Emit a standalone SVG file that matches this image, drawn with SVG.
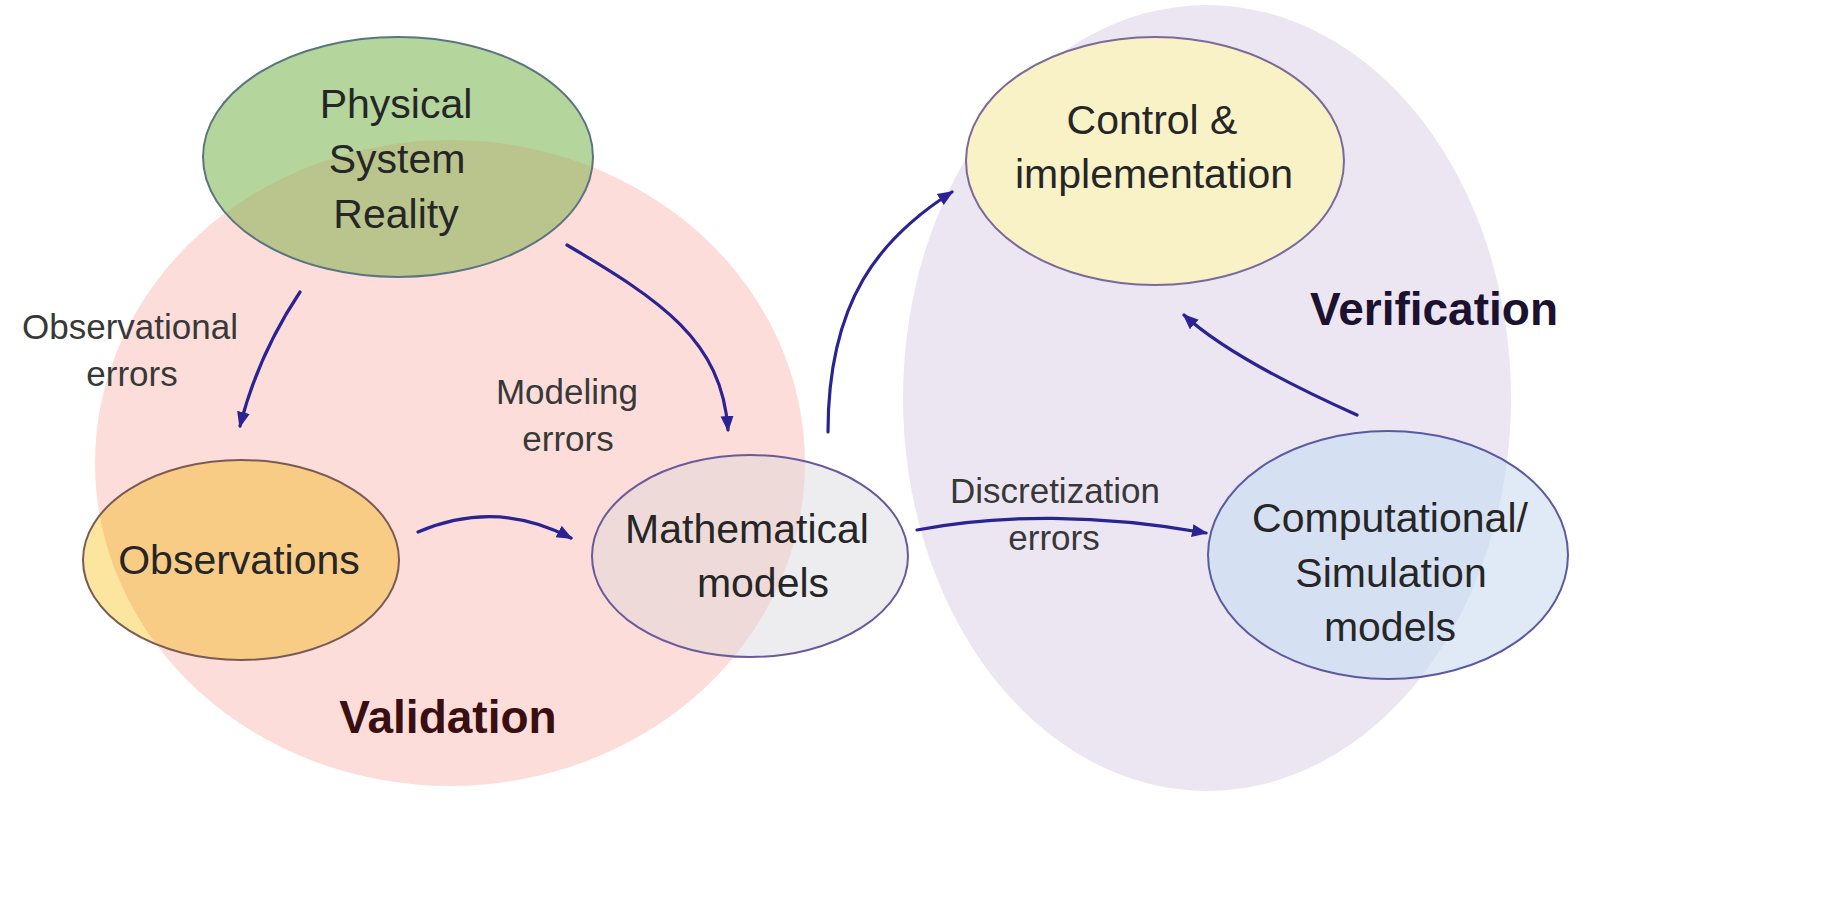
<svg xmlns="http://www.w3.org/2000/svg" width="1836" height="924" viewBox="0 0 1836 924">
  <style>
    .outline { fill: none; stroke-width: 2; }
    .nt { font-family: "Liberation Sans", Arial, sans-serif; font-size: 41px; text-anchor: middle; fill: #262626; }
    .lbl { font-family: "Liberation Sans", Arial, sans-serif; font-size: 35px; text-anchor: middle; fill: #383838; }
    .title { font-family: "Liberation Sans", Arial, sans-serif; font-size: 46px; font-weight: bold; text-anchor: middle; }
    .conn { fill: none; stroke: #2a2392; stroke-width: 3.2; stroke-linecap: round; marker-end: url(#arrow); }
  </style>
  <defs>
    <marker id="arrow" markerUnits="userSpaceOnUse" markerWidth="18" markerHeight="16" refX="14" refY="8" orient="auto">
      <path d="M0,1.5 L16,8 L0,14.5 z" fill="#2a2392"/>
    </marker>
    <clipPath id="clip-phys"><ellipse cx="398" cy="157" rx="195" ry="120"/></clipPath>
    <clipPath id="clip-obs"><ellipse cx="241" cy="560" rx="158" ry="100"/></clipPath>
    <clipPath id="clip-math"><ellipse cx="750" cy="556" rx="158" ry="101"/></clipPath>
    <clipPath id="clip-comp"><ellipse cx="1388" cy="555" rx="180" ry="124"/></clipPath>
  </defs>
  <rect width="1836" height="924" fill="#ffffff"/>

  <g id="regions">
    <ellipse id="validation-region" cx="450" cy="463" rx="355" ry="323" fill="#fdddda"/>
    <ellipse id="verification-region" cx="1207" cy="398" rx="304" ry="393" fill="#ece6f3"/>
    <text class="title" x="448" y="733" fill="#3a0f12">Validation</text>
    <text class="title" x="1434" y="325" fill="#1c1230">Verification</text>
  </g>

  <g id="physical-system-reality">
    <ellipse cx="398" cy="157" rx="195" ry="120" fill="#b4d69c"/>
    <ellipse cx="450" cy="463" rx="355" ry="323" fill="#b9c58c" clip-path="url(#clip-phys)"/>
    <ellipse class="outline" cx="398" cy="157" rx="195" ry="120" stroke="#5a7580"/>
    <text class="nt" x="396" y="118" fill="#1e3a1e">Physical</text>
    <text class="nt" x="397" y="173" fill="#1e3a1e">System</text>
    <text class="nt" x="396" y="228" fill="#1e3a1e">Reality</text>
  </g>

  <g id="observations">
    <ellipse cx="241" cy="560" rx="158" ry="100" fill="#fbe59f"/>
    <ellipse cx="450" cy="463" rx="355" ry="323" fill="#f9cc86" clip-path="url(#clip-obs)"/>
    <ellipse class="outline" cx="241" cy="560" rx="158" ry="100" stroke="#7a5a55"/>
    <text class="nt" x="239" y="574" fill="#2e1e12">Observations</text>
  </g>

  <g id="mathematical-models">
    <ellipse cx="750" cy="556" rx="158" ry="101" fill="#ededf0"/>
    <ellipse cx="450" cy="463" rx="355" ry="323" fill="#efdada" clip-path="url(#clip-math)"/>
    <ellipse class="outline" cx="750" cy="556" rx="158" ry="101" stroke="#6a5a9a"/>
    <text class="nt" x="747" y="543">Mathematical</text>
    <text class="nt" x="763" y="597">models</text>
  </g>

  <g id="control-implementation">
    <ellipse cx="1155" cy="161" rx="189" ry="124" fill="#f8f2c6" stroke="#7a6a9a" stroke-width="2"/>
    <text class="nt" x="1152" y="134" fill="#2a2418">Control &amp;</text>
    <text class="nt" x="1154" y="188" fill="#2a2418">implementation</text>
  </g>

  <g id="computational-simulation-models">
    <ellipse cx="1388" cy="555" rx="180" ry="124" fill="#e0eaf7"/>
    <ellipse cx="1207" cy="398" rx="304" ry="393" fill="#d5e1f3" clip-path="url(#clip-comp)"/>
    <ellipse class="outline" cx="1388" cy="555" rx="180" ry="124" stroke="#5a5aa0"/>
    <text class="nt" x="1390" y="532" fill="#1e2a3e">Computational/</text>
    <text class="nt" x="1391" y="587" fill="#1e2a3e">Simulation</text>
    <text class="nt" x="1390" y="641" fill="#1e2a3e">models</text>
  </g>

  <g id="connectors">
    <path class="conn" d="M300,292 Q258,355 240,426"/>
    <path class="conn" d="M567,245 C660,300 722,340 728,430"/>
    <path class="conn" d="M418,532 C470,510 522,512 571,538"/>
    <path class="conn" d="M828,432 C828,300 880,238 952,192"/>
    <path class="conn" d="M917,530 C1000,514 1100,514 1206,533"/>
    <path class="conn" d="M1357,415 C1290,385 1222,350 1184,315"/>
    <text class="lbl" x="130" y="339">Observational</text>
    <text class="lbl" x="132" y="386">errors</text>
    <text class="lbl" x="567" y="404">Modeling</text>
    <text class="lbl" x="568" y="451">errors</text>
    <text class="lbl" x="1055" y="503">Discretization</text>
    <text class="lbl" x="1054" y="550">errors</text>
  </g>
</svg>
